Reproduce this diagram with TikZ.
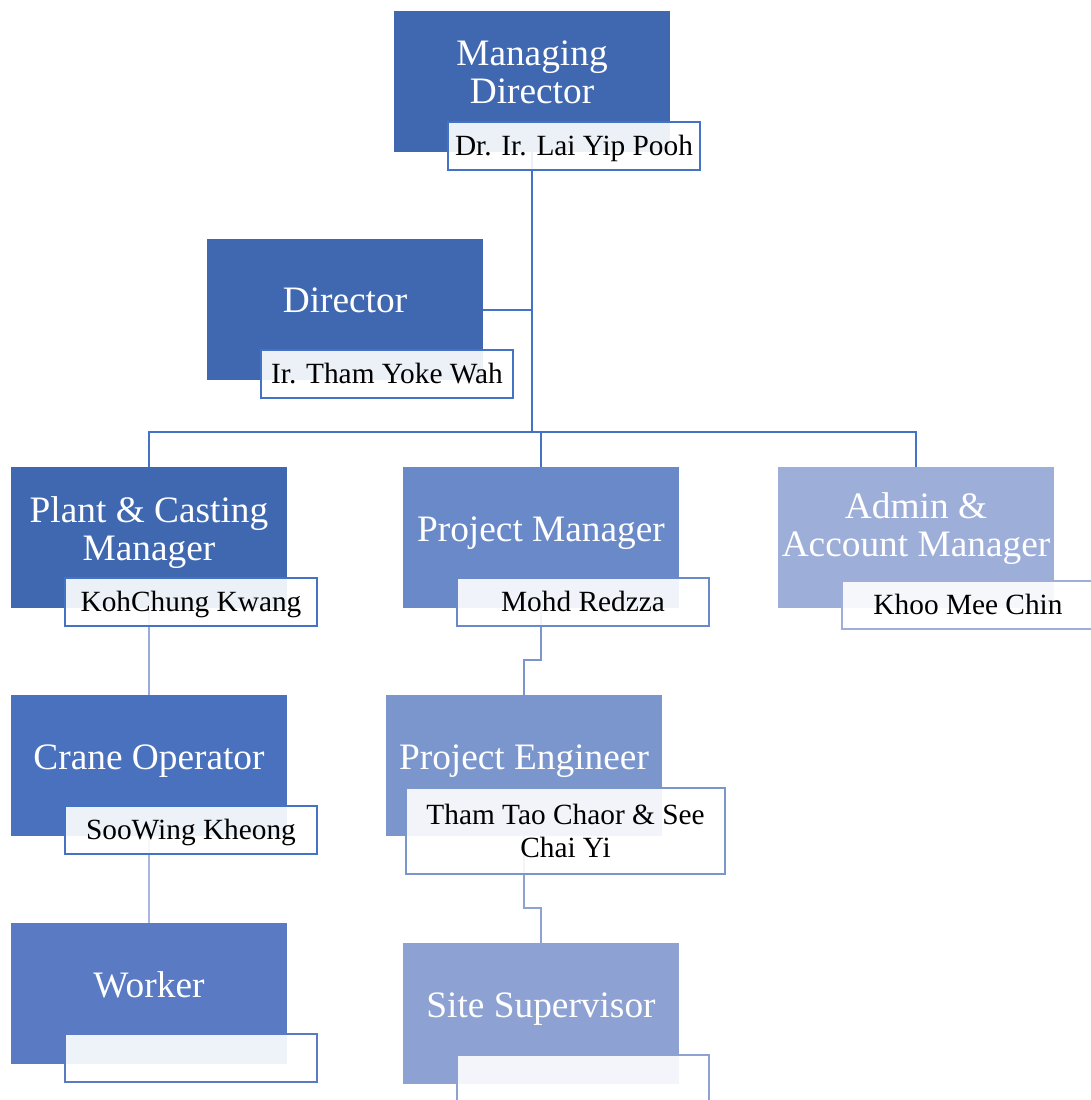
\documentclass[tikz,border=0pt]{standalone}
\usepackage{fontspec}
\setmainfont{Liberation Serif}
\definecolor{cA}{HTML}{3F68B1}
\definecolor{cCr}{HTML}{4A71BD}
\definecolor{cW}{HTML}{5A7BC3}
\definecolor{cPM}{HTML}{6A89C8}
\definecolor{cPE}{HTML}{7B96CD}
\definecolor{cSS}{HTML}{8DA2D2}
\definecolor{cAd}{HTML}{9DAED9}
\definecolor{lnA}{HTML}{4472C4}
\definecolor{ln2}{HTML}{98ACDB}
\definecolor{ln3}{HTML}{A8B8E0}
\begin{document}
\begin{tikzpicture}[x=0.75pt,y=-0.75pt,
  box/.style={rectangle, minimum width=207pt, minimum height=105.75pt, inner sep=0pt},
  ttl/.style={text=white, font=\fontsize{28}{28.5}\selectfont, align=center, inner sep=0pt},
  nm/.style={rectangle, draw, line width=1.5pt, fill=white, fill opacity=0.9, text opacity=1, minimum width=189pt, minimum height=36pt, inner sep=0pt, font=\fontsize{22}{24.75}\selectfont, align=center},
  nmone/.style={nm, text height=18.5pt, text depth=5pt},
  conn/.style={line width=1.5pt}]
\useasboundingbox (0,0) rectangle (1091,1100);
% main boxes (positions)
\node[box] (md) at (532,81.5) {};
\node[box] (dir) at (345,309.5) {};
\node[box] (pcm) at (149,537.5) {};
\node[box] (pm) at (541,537.5) {};
\node[box] (adm) at (916,537.5) {};
\node[box] (crane) at (149,765.5) {};
\node[box] (pe) at (524,765.5) {};
\node[box] (wrk) at (149,993.5) {};
\node[box] (ss) at (541,1013.5) {};
\coordinate (bus) at (532,432);
\coordinate (k1) at (0,660);
\coordinate (k2) at (0,908);
% connectors
\draw[conn, lnA] (md.center) -- (bus);
\draw[conn, lnA] (dir.center) -- (dir.center -| md.center);
\draw[conn, lnA] (bus) -| (pcm.center);
\draw[conn, lnA] (bus) -| (pm.center);
\draw[conn, lnA] (bus) -| (adm.center);
\draw[conn, ln2] (pcm.center) -- (crane.center);
\draw[conn, ln3] (crane.center) -- (wrk.center);
\draw[conn, cPE] (pm.center) -- (pm.center |- k1) -| (pe.center);
\draw[conn, cSS] (pe.center) -- (pe.center |- k2) -| (ss.center);
% fills
\fill[cA] (md.north west) rectangle (md.south east);
\fill[cA] (dir.north west) rectangle (dir.south east);
\fill[cA] (pcm.north west) rectangle (pcm.south east);
\fill[cPM] (pm.north west) rectangle (pm.south east);
\fill[cAd] (adm.north west) rectangle (adm.south east);
\fill[cCr] (crane.north west) rectangle (crane.south east);
\fill[cPE] (pe.north west) rectangle (pe.south east);
\fill[cW] (wrk.north west) rectangle (wrk.south east);
\fill[cSS] (ss.north west) rectangle (ss.south east);
% titles
\node[ttl] (mdT) at (532,72) {Managing\\Director};
\node[ttl] (dirT) at (345,300) {Director};
\node[ttl] (pcmT) at (149,533) {Plant \& Casting\\Manager};
\node[ttl] (pmT) at (541,533) {Project Manager};
\node[ttl] (admT) at (916,529) {Admin \&\\Account Manager};
\node[ttl] (craneT) at (149,761) {Crane Operator};
\node[ttl] (peT) at (524,761) {Project Engineer};
\node[ttl] (wrkT) at (149,985) {Worker};
\node[ttl] (ssT) at (541,1009) {Site Supervisor};
% name boxes
\node[nmone, draw=lnA] (mdN) at (574,146) {Dr. Ir. Lai Yip Pooh};
\node[nmone, draw=lnA] (dirN) at (387,374) {Ir. Tham Yoke Wah};
\node[nmone, draw=lnA] (pcmN) at (191,602) {KohChung Kwang};
\node[nmone, draw=cPM] (pmN) at (583,602) {Mohd Redzza};
\node[nmone, draw=cAd] (admN) at (968,605) {Khoo Mee Chin};
\node[nmone, draw=lnA] (craneN) at (191,830) {SooWing Kheong};
\node[nm, draw=cPE, minimum width=239.25pt, minimum height=64.5pt] (peN) at (565.5,831) {Tham Tao Chaor \& See\\Chai Yi};
\node[nmone, draw=cW] (wrkN) at (191,1058) {};
\node[nmone, draw=cSS] (ssN) at (583,1079) {};
\end{tikzpicture}
\end{document}
